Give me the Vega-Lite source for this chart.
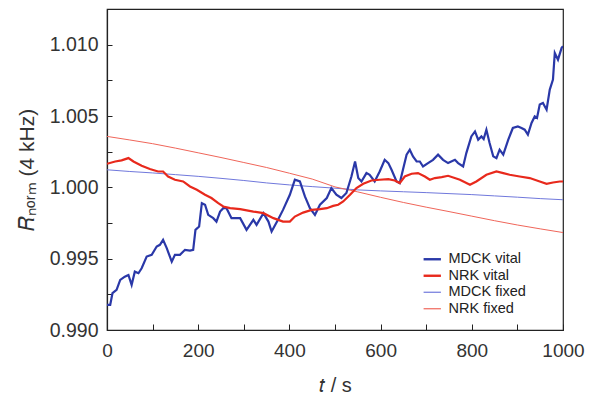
{
  "$schema": "https://vega.github.io/schema/vega-lite/v6.json",
  "width": 456,
  "height": 321,
  "autosize": {"type": "none"},
  "padding": {"left": 107, "top": 9, "right": 26, "bottom": 69},
  "background": "white",
  "config": {
    "font": "Liberation Sans",
    "view": {"stroke": "#222", "strokeWidth": 1.2}
  },
  "data": {"values": [
    {"s":"MDCK vital","t":0,"v":0.99176},{"s":"MDCK vital","t":7,"v":0.99176},{"s":"MDCK vital","t":12,"v":0.99258},{"s":"MDCK vital","t":21,"v":0.99281},{"s":"MDCK vital","t":29,"v":0.99351},{"s":"MDCK vital","t":39,"v":0.99374},{"s":"MDCK vital","t":47,"v":0.99386},{"s":"MDCK vital","t":54,"v":0.99316},{"s":"MDCK vital","t":61,"v":0.99409},{"s":"MDCK vital","t":69,"v":0.99398},{"s":"MDCK vital","t":76,"v":0.99433},{"s":"MDCK vital","t":87,"v":0.99515},{"s":"MDCK vital","t":98,"v":0.99527},{"s":"MDCK vital","t":109,"v":0.99585},{"s":"MDCK vital","t":116,"v":0.99597},{"s":"MDCK vital","t":123,"v":0.99632},{"s":"MDCK vital","t":131,"v":0.99574},{"s":"MDCK vital","t":142,"v":0.99479},{"s":"MDCK vital","t":149,"v":0.99527},{"s":"MDCK vital","t":160,"v":0.99527},{"s":"MDCK vital","t":171,"v":0.99562},{"s":"MDCK vital","t":182,"v":0.99557},{"s":"MDCK vital","t":189,"v":0.99562},{"s":"MDCK vital","t":194,"v":0.99702},{"s":"MDCK vital","t":202,"v":0.99725},{"s":"MDCK vital","t":208,"v":0.99889},{"s":"MDCK vital","t":215,"v":0.99878},{"s":"MDCK vital","t":222,"v":0.99807},{"s":"MDCK vital","t":233,"v":0.99784},{"s":"MDCK vital","t":240,"v":0.9976},{"s":"MDCK vital","t":248,"v":0.9983},{"s":"MDCK vital","t":255,"v":0.99854},{"s":"MDCK vital","t":262,"v":0.99854},{"s":"MDCK vital","t":273,"v":0.99784},{"s":"MDCK vital","t":292,"v":0.99784},{"s":"MDCK vital","t":306,"v":0.99702},{"s":"MDCK vital","t":321,"v":0.99772},{"s":"MDCK vital","t":328,"v":0.99737},{"s":"MDCK vital","t":343,"v":0.99819},{"s":"MDCK vital","t":354,"v":0.9976},{"s":"MDCK vital","t":361,"v":0.9969},{"s":"MDCK vital","t":375,"v":0.99772},{"s":"MDCK vital","t":386,"v":0.99842},{"s":"MDCK vital","t":401,"v":0.99948},{"s":"MDCK vital","t":412,"v":1.00053},{"s":"MDCK vital","t":423,"v":1.00041},{"s":"MDCK vital","t":434,"v":0.99936},{"s":"MDCK vital","t":445,"v":0.99854},{"s":"MDCK vital","t":456,"v":0.99807},{"s":"MDCK vital","t":467,"v":0.99878},{"s":"MDCK vital","t":482,"v":0.99925},{"s":"MDCK vital","t":492,"v":0.99995},{"s":"MDCK vital","t":503,"v":0.99948},{"s":"MDCK vital","t":514,"v":0.99925},{"s":"MDCK vital","t":525,"v":0.9996},{"s":"MDCK vital","t":536,"v":1.00076},{"s":"MDCK vital","t":544,"v":1.00181},{"s":"MDCK vital","t":551,"v":1.00065},{"s":"MDCK vital","t":558,"v":1.00041},{"s":"MDCK vital","t":569,"v":1.001},{"s":"MDCK vital","t":576,"v":1.00088},{"s":"MDCK vital","t":587,"v":1.00041},{"s":"MDCK vital","t":598,"v":1.00111},{"s":"MDCK vital","t":609,"v":1.00193},{"s":"MDCK vital","t":617,"v":1.0017},{"s":"MDCK vital","t":624,"v":1.00123},{"s":"MDCK vital","t":635,"v":1.00041},{"s":"MDCK vital","t":642,"v":1.0003},{"s":"MDCK vital","t":649,"v":1.00123},{"s":"MDCK vital","t":657,"v":1.00229},{"s":"MDCK vital","t":664,"v":1.00264},{"s":"MDCK vital","t":671,"v":1.00217},{"s":"MDCK vital","t":679,"v":1.00181},{"s":"MDCK vital","t":686,"v":1.00181},{"s":"MDCK vital","t":693,"v":1.00146},{"s":"MDCK vital","t":704,"v":1.0017},{"s":"MDCK vital","t":715,"v":1.00193},{"s":"MDCK vital","t":726,"v":1.00229},{"s":"MDCK vital","t":737,"v":1.00193},{"s":"MDCK vital","t":748,"v":1.0017},{"s":"MDCK vital","t":763,"v":1.00193},{"s":"MDCK vital","t":770,"v":1.0017},{"s":"MDCK vital","t":781,"v":1.00146},{"s":"MDCK vital","t":788,"v":1.0024},{"s":"MDCK vital","t":799,"v":1.00357},{"s":"MDCK vital","t":807,"v":1.00392},{"s":"MDCK vital","t":814,"v":1.00334},{"s":"MDCK vital","t":821,"v":1.00357},{"s":"MDCK vital","t":826,"v":1.00339},{"s":"MDCK vital","t":832,"v":1.00404},{"s":"MDCK vital","t":839,"v":1.00311},{"s":"MDCK vital","t":847,"v":1.00217},{"s":"MDCK vital","t":854,"v":1.00205},{"s":"MDCK vital","t":861,"v":1.00264},{"s":"MDCK vital","t":869,"v":1.00229},{"s":"MDCK vital","t":880,"v":1.00334},{"s":"MDCK vital","t":890,"v":1.00416},{"s":"MDCK vital","t":901,"v":1.00427},{"s":"MDCK vital","t":909,"v":1.00416},{"s":"MDCK vital","t":916,"v":1.00404},{"s":"MDCK vital","t":923,"v":1.00369},{"s":"MDCK vital","t":931,"v":1.00451},{"s":"MDCK vital","t":938,"v":1.00497},{"s":"MDCK vital","t":943,"v":1.00486},{"s":"MDCK vital","t":949,"v":1.0058},{"s":"MDCK vital","t":956,"v":1.00591},{"s":"MDCK vital","t":964,"v":1.00544},{"s":"MDCK vital","t":971,"v":1.00685},{"s":"MDCK vital","t":978,"v":1.00755},{"s":"MDCK vital","t":982,"v":1.00942},{"s":"MDCK vital","t":989,"v":1.00895},{"s":"MDCK vital","t":997,"v":1.00978},{"s":"MDCK vital","t":1000,"v":1.00989},
    {"s":"NRK vital","t":0,"v":1.00165},{"s":"NRK vital","t":18,"v":1.00181},{"s":"NRK vital","t":32,"v":1.00189},{"s":"NRK vital","t":47,"v":1.00205},{"s":"NRK vital","t":58,"v":1.00181},{"s":"NRK vital","t":76,"v":1.00151},{"s":"NRK vital","t":94,"v":1.00128},{"s":"NRK vital","t":112,"v":1.00111},{"s":"NRK vital","t":123,"v":1.00111},{"s":"NRK vital","t":134,"v":1.00076},{"s":"NRK vital","t":149,"v":1.00053},{"s":"NRK vital","t":167,"v":1.00041},{"s":"NRK vital","t":182,"v":1.00006},{"s":"NRK vital","t":197,"v":0.99983},{"s":"NRK vital","t":215,"v":0.99948},{"s":"NRK vital","t":229,"v":0.99925},{"s":"NRK vital","t":244,"v":0.99889},{"s":"NRK vital","t":255,"v":0.99866},{"s":"NRK vital","t":270,"v":0.99854},{"s":"NRK vital","t":292,"v":0.99847},{"s":"NRK vital","t":321,"v":0.9983},{"s":"NRK vital","t":343,"v":0.99819},{"s":"NRK vital","t":365,"v":0.99784},{"s":"NRK vital","t":386,"v":0.9976},{"s":"NRK vital","t":401,"v":0.9976},{"s":"NRK vital","t":412,"v":0.99795},{"s":"NRK vital","t":430,"v":0.99823},{"s":"NRK vital","t":449,"v":0.99842},{"s":"NRK vital","t":467,"v":0.99847},{"s":"NRK vital","t":482,"v":0.99854},{"s":"NRK vital","t":496,"v":0.9987},{"s":"NRK vital","t":507,"v":0.99878},{"s":"NRK vital","t":518,"v":0.99901},{"s":"NRK vital","t":533,"v":0.99948},{"s":"NRK vital","t":547,"v":0.99995},{"s":"NRK vital","t":562,"v":1.00025},{"s":"NRK vital","t":580,"v":1.00048},{"s":"NRK vital","t":598,"v":1.00053},{"s":"NRK vital","t":617,"v":1.00058},{"s":"NRK vital","t":631,"v":1.00048},{"s":"NRK vital","t":642,"v":1.0003},{"s":"NRK vital","t":653,"v":1.00076},{"s":"NRK vital","t":668,"v":1.00095},{"s":"NRK vital","t":682,"v":1.001},{"s":"NRK vital","t":697,"v":1.00076},{"s":"NRK vital","t":708,"v":1.00053},{"s":"NRK vital","t":719,"v":1.00065},{"s":"NRK vital","t":734,"v":1.00072},{"s":"NRK vital","t":748,"v":1.00081},{"s":"NRK vital","t":774,"v":1.00053},{"s":"NRK vital","t":796,"v":1.00018},{"s":"NRK vital","t":810,"v":1.00041},{"s":"NRK vital","t":832,"v":1.00088},{"s":"NRK vital","t":854,"v":1.00111},{"s":"NRK vital","t":869,"v":1.001},{"s":"NRK vital","t":883,"v":1.00088},{"s":"NRK vital","t":905,"v":1.00076},{"s":"NRK vital","t":927,"v":1.00065},{"s":"NRK vital","t":949,"v":1.00041},{"s":"NRK vital","t":964,"v":1.00025},{"s":"NRK vital","t":978,"v":1.00034},{"s":"NRK vital","t":993,"v":1.00041},{"s":"NRK vital","t":1000,"v":1.00041},
    {"s":"MDCK fixed","t":0,"v":1.00123},{"s":"MDCK fixed","t":50,"v":1.00111},{"s":"MDCK fixed","t":100,"v":1.00101},{"s":"MDCK fixed","t":150,"v":1.00089},{"s":"MDCK fixed","t":200,"v":1.00077},{"s":"MDCK fixed","t":250,"v":1.00063},{"s":"MDCK fixed","t":300,"v":1.00048},{"s":"MDCK fixed","t":350,"v":1.00031},{"s":"MDCK fixed","t":400,"v":1.00017},{"s":"MDCK fixed","t":450,"v":1.00005},{"s":"MDCK fixed","t":500,"v":0.99994},{"s":"MDCK fixed","t":550,"v":0.99982},{"s":"MDCK fixed","t":600,"v":0.99975},{"s":"MDCK fixed","t":650,"v":0.99969},{"s":"MDCK fixed","t":700,"v":0.99963},{"s":"MDCK fixed","t":750,"v":0.99956},{"s":"MDCK fixed","t":800,"v":0.99949},{"s":"MDCK fixed","t":850,"v":0.9994},{"s":"MDCK fixed","t":900,"v":0.99931},{"s":"MDCK fixed","t":950,"v":0.99921},{"s":"MDCK fixed","t":1000,"v":0.99913},
    {"s":"NRK fixed","t":0,"v":1.00357},{"s":"NRK fixed","t":50,"v":1.00332},{"s":"NRK fixed","t":100,"v":1.00306},{"s":"NRK fixed","t":150,"v":1.00275},{"s":"NRK fixed","t":200,"v":1.00242},{"s":"NRK fixed","t":250,"v":1.00209},{"s":"NRK fixed","t":300,"v":1.00174},{"s":"NRK fixed","t":350,"v":1.00139},{"s":"NRK fixed","t":400,"v":1.00099},{"s":"NRK fixed","t":450,"v":1.00058},{"s":"NRK fixed","t":500,"v":1.00003},{"s":"NRK fixed","t":550,"v":0.99968},{"s":"NRK fixed","t":600,"v":0.9993},{"s":"NRK fixed","t":650,"v":0.99894},{"s":"NRK fixed","t":700,"v":0.99861},{"s":"NRK fixed","t":750,"v":0.9983},{"s":"NRK fixed","t":800,"v":0.99798},{"s":"NRK fixed","t":850,"v":0.99766},{"s":"NRK fixed","t":900,"v":0.99736},{"s":"NRK fixed","t":950,"v":0.99709},{"s":"NRK fixed","t":1000,"v":0.99683}
  ]},
  "encoding": {
    "x": {
      "field": "t", "type": "quantitative",
      "scale": {"domain": [0, 1000], "nice": false, "zero": false},
      "axis": {
        "values": [0,100,200,300,400,500,600,700,800,900,1000],
        "labelExpr": "datum.value % 200 === 0 ? datum.label : ''",
        "format": "d",
        "grid": false,
        "tickSize": -6,
        "tickColor": "#222",
        "domainColor": "#222",
        "domainWidth": 1.2,
        "labelFontSize": 19,
        "labelColor": "#333",
        "labelPadding": 17,
        "labelFlush": false,
        "labelOverlap": false,
        "title": "𝑡 / s",
        "titleFontSize": 20,
        "titleFontWeight": "normal",
        "titleColor": "#333",
        "titlePadding": 15
      }
    },
    "y": {
      "field": "v", "type": "quantitative",
      "scale": {"domain": [0.99, 1.0125], "nice": false, "zero": false},
      "axis": {
        "values": [0.99,0.9925,0.995,0.9975,1.0,1.0025,1.005,1.0075,1.01],
        "labelExpr": "round(datum.value*1000) % 5 === 0 ? format(datum.value, '.3f') : ''",
        "grid": false,
        "tickSize": -5,
        "tickColor": "#222",
        "domainColor": "#222",
        "domainWidth": 1.2,
        "labelFontSize": 19.5,
        "labelColor": "#333",
        "labelPadding": 14,
        "labelOverlap": false,
        "title": "𝑅ₙₒᵣₘ (4 kHz)   ",
        "titleFontSize": 21,
        "titleFontWeight": "normal",
        "titleColor": "#333",
        "titlePadding": 12
      }
    },
    "color": {
      "field": "s", "type": "nominal",
      "scale": {
        "domain": ["MDCK vital", "NRK vital", "MDCK fixed", "NRK fixed"],
        "range": ["#2a38a8", "#e8291c", "#7078dc", "#f0665a"]
      },
      "legend": {
        "title": null,
        "orient": "none",
        "legendX": 318,
        "legendY": 243,
        "symbolType": "stroke",
        "symbolSize": 300,
        "symbolStrokeWidth": 2.2,
        "labelFontSize": 14.5,
        "labelColor": "#222",
        "labelOffset": 9,
        "rowPadding": 1.5,
        "encode": {
          "symbols": {
            "update": {
              "strokeWidth": {"signal": "datum.value == 'MDCK fixed' || datum.value == 'NRK fixed' ? 1.2 : 2.4"}
            }
          }
        }
      }
    }
  },
  "layer": [
    {
      "transform": [{"filter": "indexof(datum.s, 'fixed') >= 0"}],
      "mark": {"type": "line", "clip": true, "strokeWidth": 1}
    },
    {
      "transform": [{"filter": "indexof(datum.s, 'vital') >= 0"}],
      "mark": {"type": "line", "clip": true, "strokeWidth": 2.2}
    }
  ]
}
